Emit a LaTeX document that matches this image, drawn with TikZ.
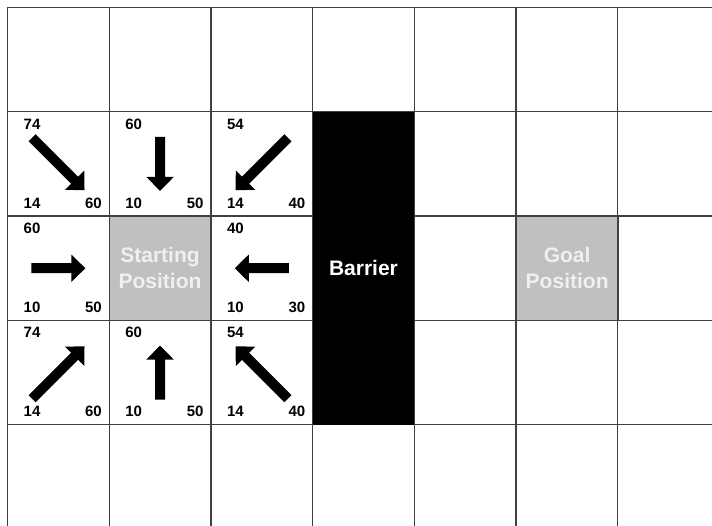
\documentclass[tikz,border=0pt]{standalone}
\usepackage{fontspec}
\setmainfont{Liberation Sans}
\definecolor{cellgray}{HTML}{C0C0C0}
\definecolor{lbl}{HTML}{F0F0F0}
\begin{document}
\begin{tikzpicture}[x=1pt,y=-1pt,
  gridline/.style={draw=black!75,line width=1.4pt},
  num/.style={inner sep=0pt,font=\fontsize{15}{18}\selectfont\bfseries},
  big/.style={inner sep=0pt,align=center,font=\fontsize{21}{25.6}\selectfont\bfseries},
  blockarr/.style={fill=black}]
\useasboundingbox (0,0) rectangle (712,526);
\fill[white] (0,0) rectangle (712,526);
% grid lines
\foreach \c in {0,...,6} \draw[gridline] ({7.5+101.7*\c},7.5) -- ({7.5+101.7*\c},530);
\foreach \r in {0,...,4} \draw[gridline] (7.5,{7.5+104.3*\r}) -- (716,{7.5+104.3*\r});
% special cells
\fill[cellgray] (109.2,216.1) rectangle (210.9,320.4);
\fill[cellgray] (516.3,216.1) rectangle (618.0,320.4);
\fill[black] (312.6,111.8) rectangle (414.3,424.7);
\draw[gridline] (109.2,216.1) rectangle (210.9,320.4);
\draw[gridline] (516.3,216.1) rectangle (618.0,320.4);
\node[big,text=lbl] (start) at (160.05,268.2) {Starting\\Position};
\node[big,text=lbl] (goal) at (567.15,268.2) {Goal\\Position};
\node[big,text=white] (barrier) at (363.45,268.2) {Barrier};
% neighbour cells
\foreach \c/\r/\a/\b/\d/\ang/\len [count=\i] in {
  0/1/74/14/60/-45/74, 1/1/60/10/50/-90/54, 2/1/54/14/40/-135/74,
  0/2/60/10/50/0/54, 2/2/40/10/30/180/54,
  0/3/74/14/60/45/74, 1/3/60/10/50/90/54, 2/3/54/14/40/135/74} {
  \pgfmathsetmacro\L{7.5+101.7*\c}
  \pgfmathsetmacro\T{7.5+104.3*\r}
  \node[num,anchor=base west] (tl\i) at (\L+16,\T+17.5) {\a};
  \node[num,anchor=base west] (bl\i) at (\L+16,\T+96.5) {\b};
  \node[num,anchor=base east] (br\i) at (\L+94.5,\T+96.5) {\d};
  \fill[blockarr,shift={(\L+50.85,\T+52.15)},rotate=\ang]
    (-\len/2,-5) -- (\len/2-14,-5) -- (\len/2-14,-13.7) -- (\len/2,0)
    -- (\len/2-14,13.7) -- (\len/2-14,5) -- (-\len/2,5) -- cycle;
}
\end{tikzpicture}
\end{document}
